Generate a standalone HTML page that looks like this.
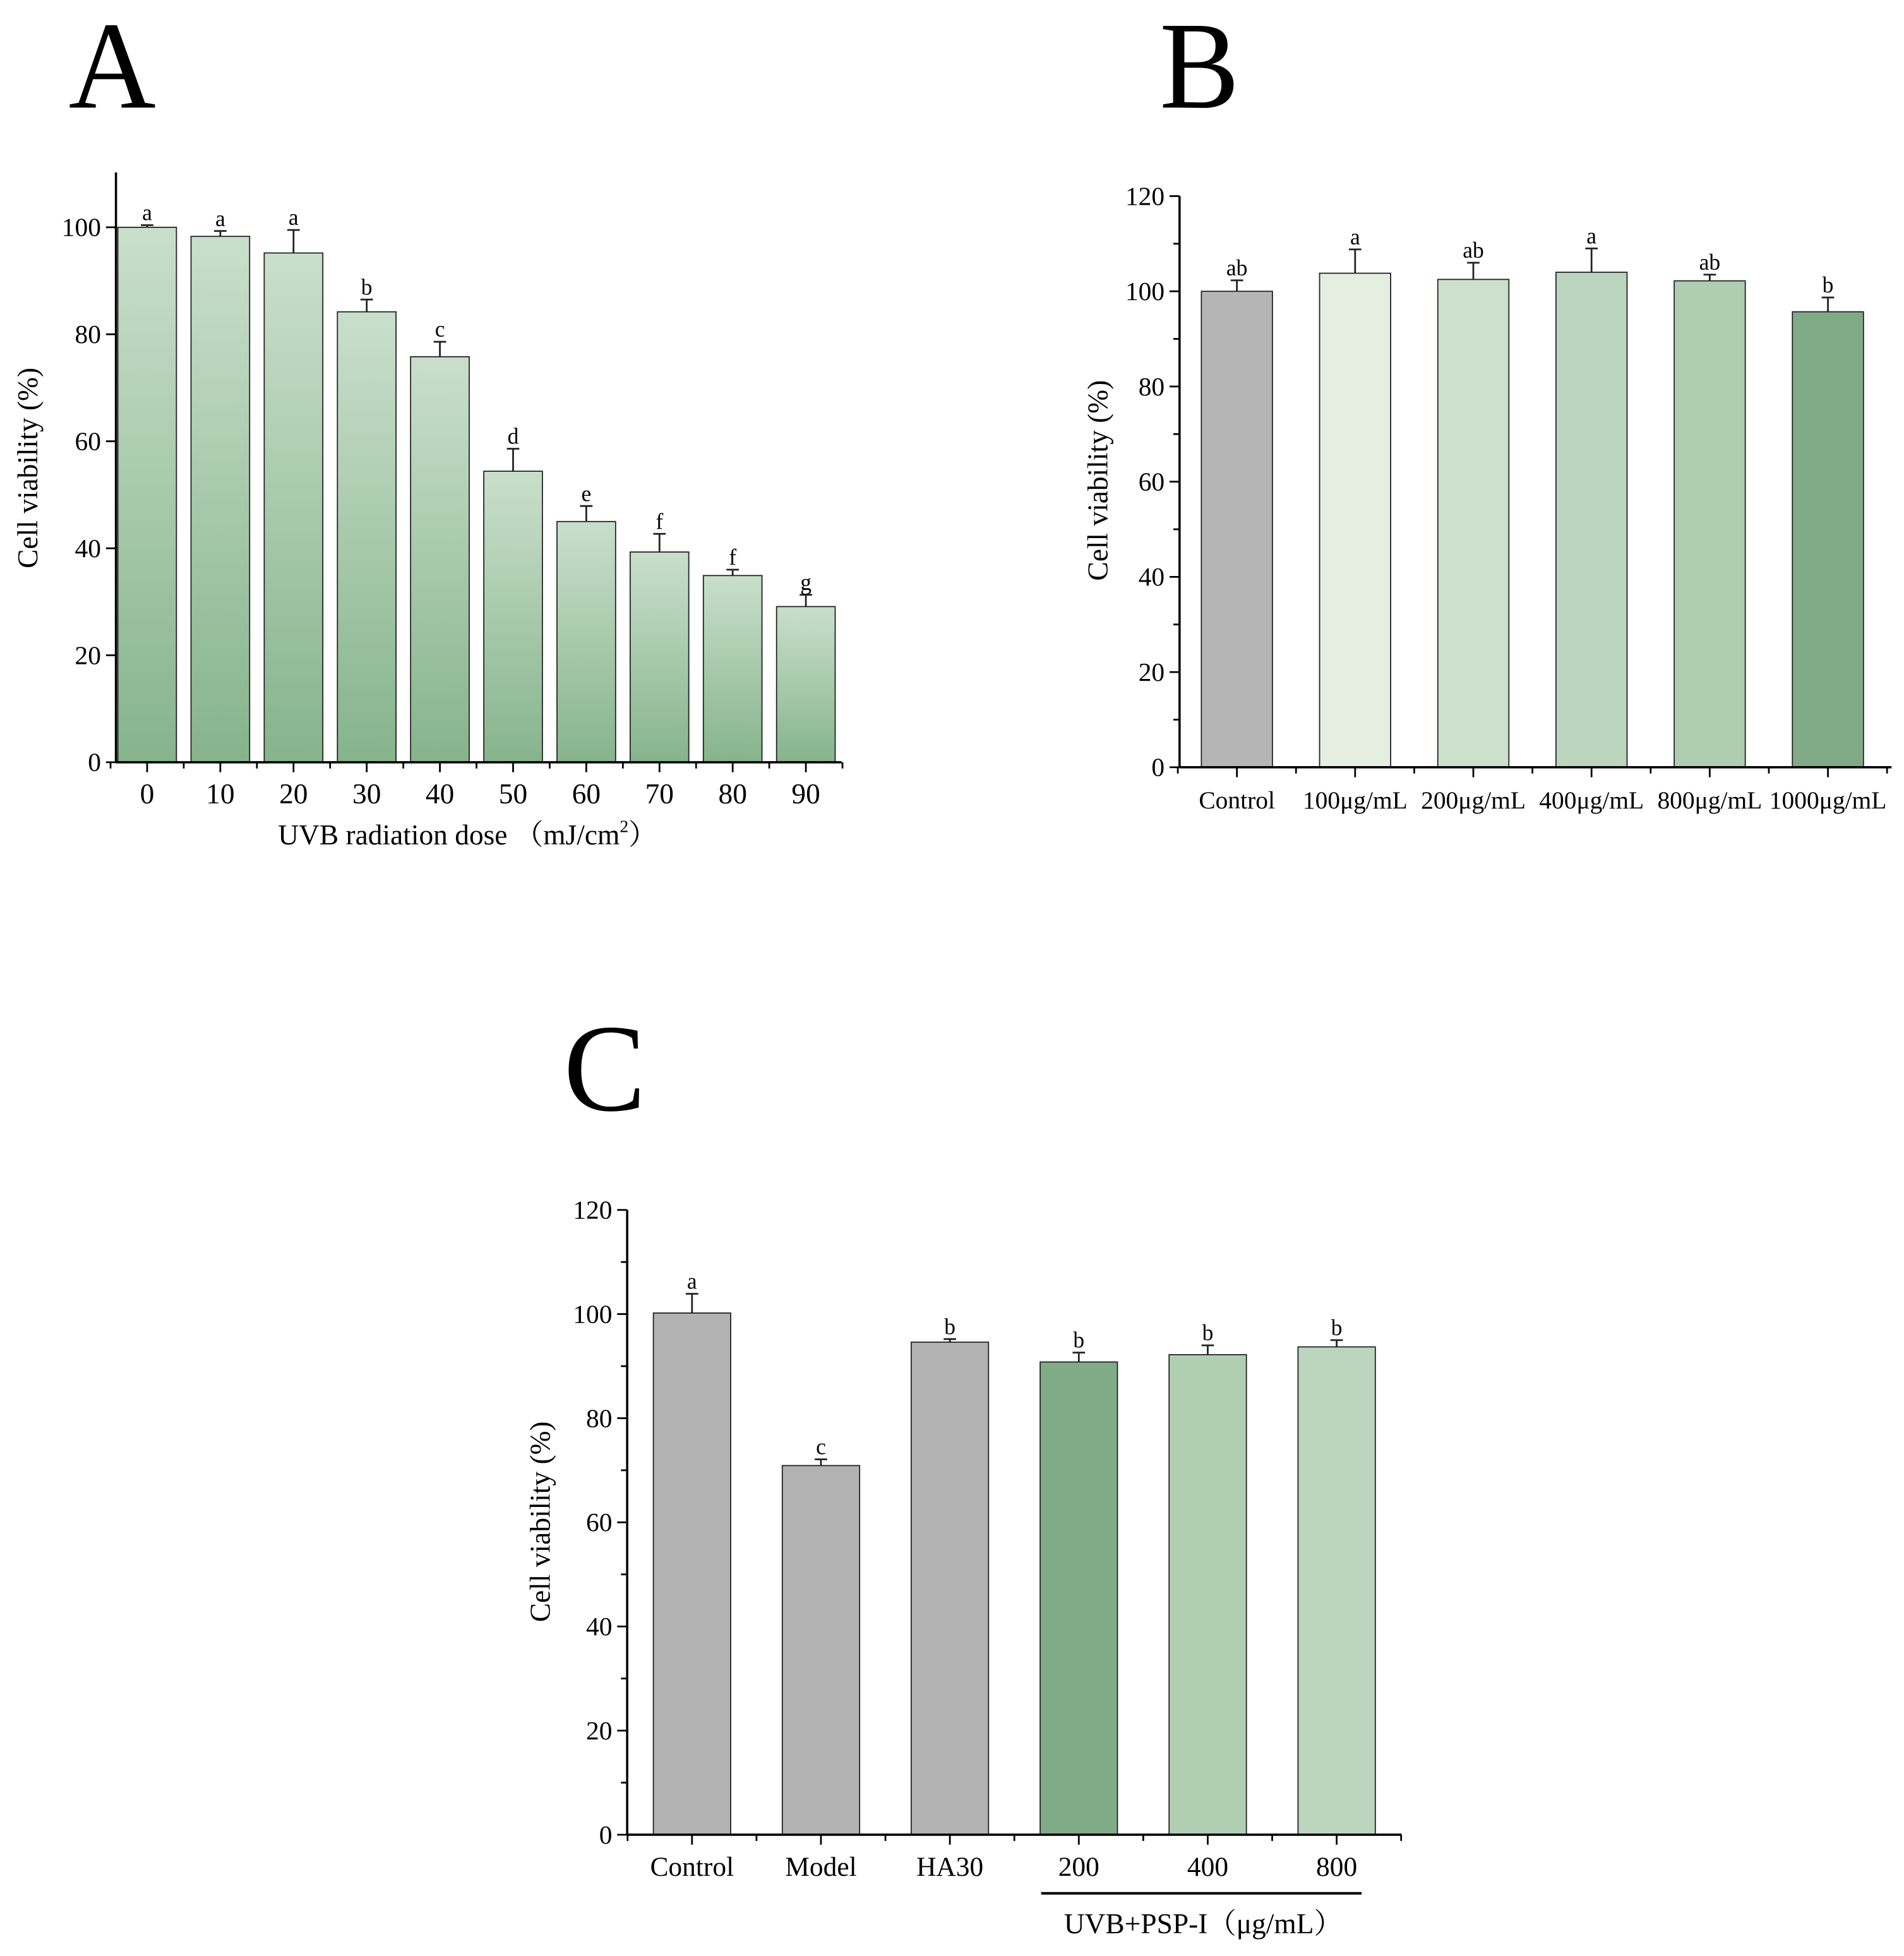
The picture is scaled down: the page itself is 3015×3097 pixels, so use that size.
<!DOCTYPE html>
<html><head><meta charset="utf-8"><style>
html,body{margin:0;padding:0;background:#fff}
svg{display:block}
text{font-family:"Liberation Serif","Noto Serif CJK SC",serif;fill:#000}
</style></head><body>
<svg id="fig" width="3015" height="3097" viewBox="0 0 1527 1568" xmlns="http://www.w3.org/2000/svg">
<defs>
<linearGradient id="gA" x1="0" y1="0" x2="0" y2="1">
<stop offset="0" stop-color="#c9dfcb"/><stop offset="1" stop-color="#86b48c"/>
</linearGradient>
</defs>
<text x="55" y="86" font-size="100" textLength="70" lengthAdjust="spacingAndGlyphs">A</text>
<text x="930" y="86" font-size="100" textLength="64" lengthAdjust="spacingAndGlyphs">B</text>
<text x="452" y="890" font-size="100" textLength="66" lengthAdjust="spacingAndGlyphs">C</text>
<g id="chartA"></g>
<g id="chartB"></g>
<g id="chartC"></g>
</svg>
<script>
const catsA = ["0","10","20","30","40","50","60","70","80","90"];
const valsA = [100,98.3,95.2,84.2,75.8,54.4,45.0,39.3,34.9,29.1];
const errsA = [0.4,1.0,4.3,2.3,2.8,4.2,2.9,3.4,1.1,2.2];
const lettersA = ["a","a","a","b","c","d","e","f","f","g"];
const ticksA = [0,20,40,60,80,100];

const catsB = ["Control","100μg/mL","200μg/mL","400μg/mL","800μg/mL","1000μg/mL"];
const valsB = [100,103.8,102.5,104.0,102.2,95.7];
const errsB = [2.3,5.0,3.5,5.0,1.3,3.0];
const lettersB = ["ab","a","ab","a","ab","b"];
const ticksB = [0,20,40,60,80,100,120];

const catsC = ["Control","Model","HA30","200","400","800"];
const valsC = [100.2,70.9,94.6,90.8,92.2,93.7];
const errsC = [3.7,1.2,0.6,1.8,1.8,1.3];
const lettersC = ["a","c","b","b","b","b"];
const ticksC = [0,20,40,60,80,100,120];

const NS="http://www.w3.org/2000/svg";
function mk(parent,tag,attrs,txt){const e=document.createElementNS(NS,tag);for(const k in attrs)e.setAttribute(k,attrs[k]);if(txt!==undefined)e.textContent=txt;parent.appendChild(e);return e;}

function drawChart(g,o){
  const y=v=>o.y0-(v/o.ymax)*(o.y0-o.ytop);
  const x=i=>o.x0c+i*o.step;
  o.vals.forEach((v,i)=>{
    const r=mk(g,'rect',{x:x(i)-o.bw/2,y:y(v),width:o.bw,height:o.y0-y(v),fill:o.colors[i],stroke:'#222','stroke-width':0.9});
    
    
    const e=o.errs[i];
    const ep=mk(g,'path',{d:`M${x(i)} ${y(v)}V${y(v+e)}M${x(i)-5} ${y(v+e)}H${x(i)+5}`,stroke:'#222','stroke-width':1.4,fill:'none'});
    
    
    const lt=mk(g,'text',{x:x(i),y:y(v+e)-4,'font-size':18,'text-anchor':'middle'},o.letters[i]);
    
    
    const tl=mk(g,'text',{x:x(i),y:o.y0+33,'font-size':o.xfs,'text-anchor':'middle'},o.cats[i]);
    
    
    mk(g,'line',{x1:x(i),x2:x(i),y1:o.y0,y2:o.y0+8,stroke:'#000','stroke-width':1.4});
    mk(g,'line',{x1:x(i)+o.step/2,x2:x(i)+o.step/2,y1:o.y0,y2:o.y0+5,stroke:'#000','stroke-width':1.4});
  });
  mk(g,'line',{x1:x(0)-o.step/2,x2:x(0)-o.step/2,y1:o.y0,y2:o.y0+5,stroke:'#000','stroke-width':1.4});
  const ya=mk(g,'line',{x1:o.ax,x2:o.ax,y1:o.axTop,y2:o.y0,stroke:'#000','stroke-width':1.8});
  
  
  const xa=mk(g,'line',{x1:o.ax,x2:o.xr,y1:o.y0,y2:o.y0,stroke:'#000','stroke-width':1.8});
  
  
  o.ticks.forEach(t=>{
    mk(g,'line',{x1:o.ax-8,x2:o.ax,y1:y(t),y2:y(t),stroke:'#000','stroke-width':1.4});
    const tt=mk(g,'text',{x:o.ax-12,y:y(t)+7,'font-size':21,'text-anchor':'end'},String(t));
    
    
    if(o.minor&&t<o.ymax) mk(g,'line',{x1:o.ax-5,x2:o.ax,y1:y(t+10),y2:y(t+10),stroke:'#000','stroke-width':1.4});
  });
  const yt=mk(g,'text',{x:0,y:0,'font-size':23,'text-anchor':'middle',transform:`translate(${o.ylx},${o.yly}) rotate(-90)`},'Cell viability (%)');
  
  
}

drawChart(document.getElementById('chartA'),{key:'a',cats:catsA,vals:valsA,errs:errsA,letters:lettersA,ticks:ticksA,
  ymax:100,y0:611,ytop:182,axTop:138,ax:93,xr:675,x0c:118,step:58.7,bw:47,xfs:23,
  colors:valsA.map(()=>'url(#gA)'),ylx:30,yly:375,minor:false});
drawChart(document.getElementById('chartB'),{key:'b',cats:catsB,vals:valsB,errs:errsB,letters:lettersB,ticks:ticksB,
  ymax:120,y0:615,ytop:157,axTop:157,ax:946,xr:1517,x0c:992,step:94.8,bw:57,xfs:20,
  colors:['#b5b5b5','#e4efe1','#cde0cc','#bbd5bf','#afcdb0','#7faa85'],ylx:888,yly:385,minor:true});
drawChart(document.getElementById('chartC'),{key:'c',cats:catsC,vals:valsC,errs:errsC,letters:lettersC,ticks:ticksC,
  ymax:120,y0:1471,ytop:970,axTop:970,ax:503,xr:1124,x0c:555,step:103.4,bw:62,xfs:22,
  colors:['#b3b3b3','#b3b3b3','#b3b3b3','#80ab86','#b0cfb2','#bcd6be'],ylx:441,yly:1220,minor:true});

const gA=document.getElementById('chartA');
const xtA=mk(gA,'text',{x:375,y:677,'font-size':23,'text-anchor':'middle'},'UVB radiation dose （mJ/cm');


const sup=mk(xtA,'tspan',{'font-size':14,dy:-10},'2');
const cl=mk(xtA,'tspan',{dy:10},'）');
const gC=document.getElementById('chartC');
const br=mk(gC,'line',{x1:835,x2:1092,y1:1518,y2:1518,stroke:'#000','stroke-width':2});


const xtC=mk(gC,'text',{x:965,y:1550,'font-size':23,'text-anchor':'middle'},'UVB+PSP-I（μg/mL）');


</script>
</body></html>
